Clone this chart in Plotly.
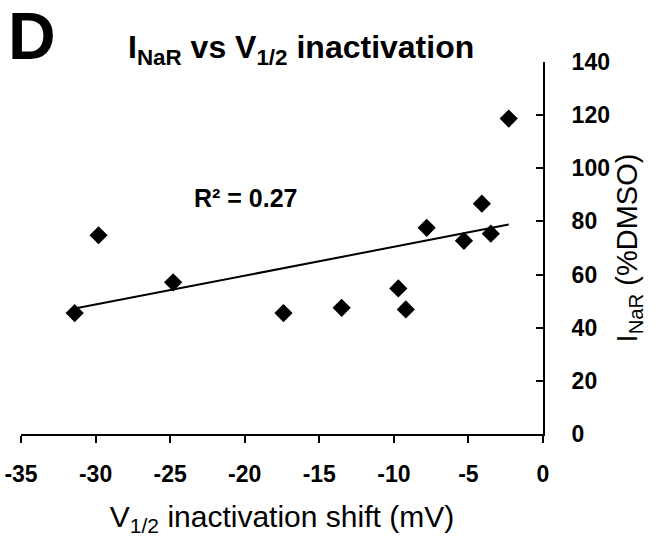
import numpy as np
import plotly.graph_objects as go

# Data
v_half_shift = [-31.4, -29.8, -24.8, -17.4, -13.5, -9.7, -9.2, -7.8, -5.3, -4.1, -3.5, -2.3]
inar_pct = [45.5, 74.8, 57.1, 45.5, 47.5, 54.8, 46.9, 77.6, 72.7, 86.7, 75.4, 118.7]
x_ticks = [-35, -30, -25, -20, -15, -10, -5, 0]
y_ticks = [0, 20, 40, 60, 80, 100, 120, 140]
r2_text = "R² = 0.27"

FONT = "Liberation Sans, Arial, sans-serif"

slope, intercept = np.polyfit(v_half_shift, inar_pct, 1)
fit_x = [min(v_half_shift), max(v_half_shift)]
fit_y = [slope * x + intercept for x in fit_x]

fig = go.Figure()
fig.add_trace(go.Scatter(x=fit_x, y=fit_y, mode="lines",
                         line=dict(color="black", width=2), showlegend=False, hoverinfo="skip"))
fig.add_trace(go.Scatter(x=v_half_shift, y=inar_pct, mode="markers",
                         marker=dict(symbol="diamond", size=14, color="black"),
                         showlegend=False))

# body margin removed by post_script, so the figure fills the 657x541 window
W, H = 657, 541
L, T = 21, 62
R = W - 543
B = H - 434
PW, PH = W - L - R, H - T - B


def px(x):
    return (x - L) / PW


def py(y):
    return (H - B - y) / PH


fig.update_layout(
    width=W, height=H,
    margin=dict(l=L, r=R, t=T, b=B, autoexpand=False),
    paper_bgcolor="white", plot_bgcolor="white",
    font=dict(family=FONT, color="black"),
    xaxis=dict(range=[-35, 0], tickvals=x_ticks, ticktext=[str(v) for v in x_ticks],
               automargin=False, ticklabeloverflow="allow",
               showline=True, linecolor="black", linewidth=2,
               ticks="outside", ticklen=7, tickwidth=2, tickcolor="black",
               showgrid=False, zeroline=False,
               tickfont=dict(family=FONT, size=23, color="black", weight="bold"),
               ticklabelstandoff=11,
               title=dict(text="V<sub>1/2</sub> inactivation shift (mV)",
                          font=dict(family=FONT, size=30, color="black"), standoff=20)),
    yaxis=dict(range=[0, 140], tickvals=y_ticks, ticktext=[str(v) for v in y_ticks],
               side="right", automargin=False, ticklabeloverflow="allow",
               showline=True, linecolor="black", linewidth=2,
               ticks="inside", ticklen=7, tickwidth=2, tickcolor="black",
               showgrid=False, zeroline=False,
               tickfont=dict(family=FONT, size=23, color="black", weight="bold"),
               ticklabelstandoff=22,
               title=dict(text="I<sub>NaR</sub> (%DMSO)",
                          font=dict(family=FONT, size=29, color="black"), standoff=8)),
    annotations=[
        dict(text="<b>D</b>", x=px(6), y=py(36), xref="paper", yref="paper",
             xanchor="left", yanchor="middle", showarrow=False,
             font=dict(family=FONT, size=66, color="black")),
        dict(text="<b>I<sub>NaR</sub> vs V<sub>1/2</sub> inactivation</b>",
             x=px(301), y=py(49), xref="paper", yref="paper", showarrow=False,
             xanchor="center", yanchor="middle",
             font=dict(family=FONT, size=32, color="black")),
        dict(text="<b>" + r2_text + "</b>", x=-19.9, y=88.9, xref="x", yref="y",
             showarrow=False, font=dict(family=FONT, size=25, color="black")),
    ],
)

fig.write_html("out.html", config={"displayModeBar": False},
               post_script="document.body.style.margin='0px';")
